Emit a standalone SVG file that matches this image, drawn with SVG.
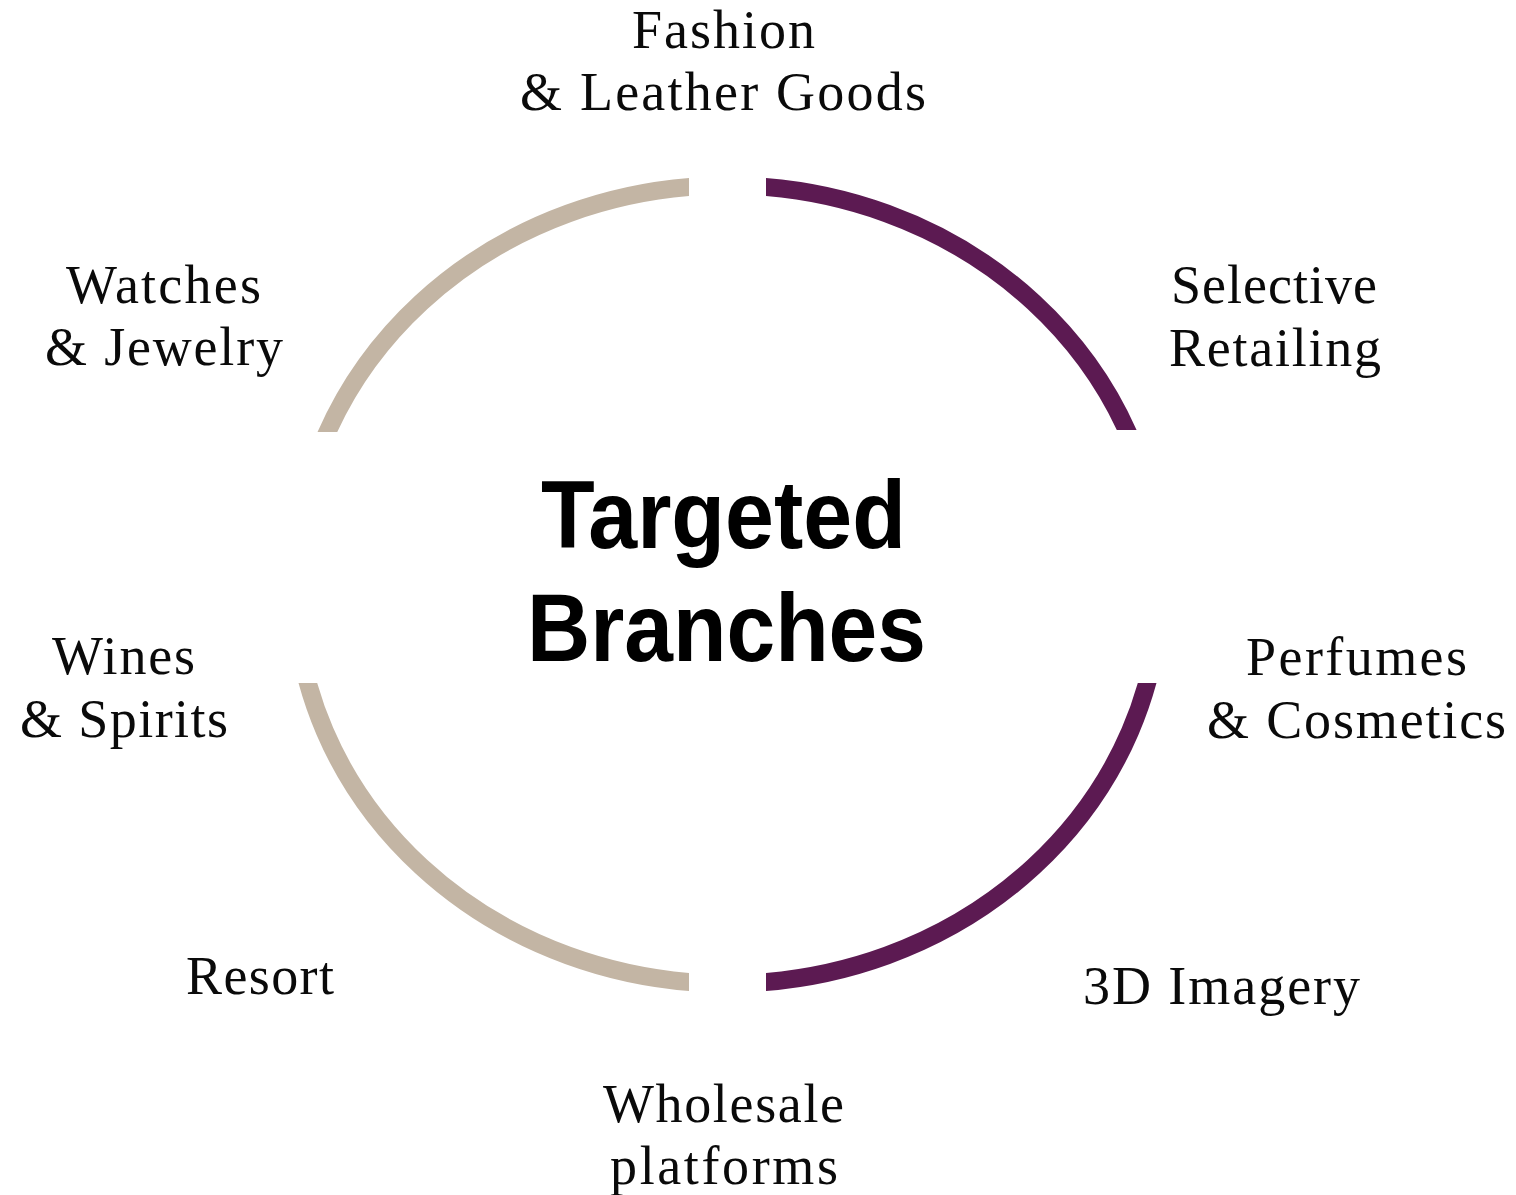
<svg xmlns="http://www.w3.org/2000/svg" width="1516" height="1195" viewBox="0 0 1516 1195">
<style>
.lbl{font-family:"Liberation Serif","Times New Roman",serif;font-size:54px;fill:#0a0a0a;text-anchor:middle}
.ctr{font-family:"Liberation Sans",Arial,Helvetica,sans-serif;font-size:96px;font-weight:bold;fill:#000;text-anchor:middle}
.arc{fill:none;stroke-width:18}
.beige{stroke:#C3B5A4}
.purple{stroke:#5C1A52}
</style>
<defs>
<clipPath id="cTL"><rect x="0" y="0" width="689" height="432"/></clipPath>
<clipPath id="cTR"><rect x="766" y="0" width="750" height="430"/></clipPath>
<clipPath id="cBL"><rect x="0" y="683" width="689" height="512"/></clipPath>
<clipPath id="cBR"><rect x="766" y="683" width="750" height="512"/></clipPath>
</defs>
<rect width="1516" height="1195" fill="#fff"/>
<g id="connectors">
<ellipse class="arc beige" cx="727.5" cy="584.5" rx="433" ry="399" clip-path="url(#cTL)"/>
<ellipse class="arc purple" cx="727.5" cy="584.5" rx="433" ry="399" clip-path="url(#cTR)"/>
<ellipse class="arc beige" cx="727.5" cy="584.5" rx="433" ry="399" clip-path="url(#cBL)"/>
<ellipse class="arc purple" cx="727.5" cy="584.5" rx="433" ry="399" clip-path="url(#cBR)"/>
</g>
<g id="center">
<text class="ctr" x="723.5" y="548" textLength="365" lengthAdjust="spacingAndGlyphs">Targeted</text>
<text class="ctr" x="726.5" y="661" textLength="399" lengthAdjust="spacingAndGlyphs">Branches</text>
</g>
<g id="fashion">
<text class="lbl" x="723.5" y="48" textLength="183" lengthAdjust="spacing">Fashion</text>
<text class="lbl" x="723" y="110" textLength="406" lengthAdjust="spacing">&amp; Leather Goods</text>
</g>
<g id="selective">
<text class="lbl" x="1274" y="303" textLength="206" lengthAdjust="spacing">Selective</text>
<text class="lbl" x="1275" y="366" textLength="212" lengthAdjust="spacing">Retailing</text>
</g>
<g id="perfumes">
<text class="lbl" x="1356.5" y="675" textLength="221" lengthAdjust="spacing">Perfumes</text>
<text class="lbl" x="1356.5" y="738" textLength="299" lengthAdjust="spacing">&amp; Cosmetics</text>
</g>
<g id="imagery">
<text class="lbl" x="1221.5" y="1004" textLength="277" lengthAdjust="spacing">3D Imagery</text>
</g>
<g id="wholesale">
<text class="lbl" x="723.5" y="1122" textLength="241" lengthAdjust="spacing">Wholesale</text>
<text class="lbl" x="724" y="1184" textLength="228" lengthAdjust="spacing">platforms</text>
</g>
<g id="resort">
<text class="lbl" x="260" y="994" textLength="148" lengthAdjust="spacing">Resort</text>
</g>
<g id="wines">
<text class="lbl" x="123.5" y="674" textLength="143" lengthAdjust="spacing">Wines</text>
<text class="lbl" x="124" y="737" textLength="208" lengthAdjust="spacing">&amp; Spirits</text>
</g>
<g id="watches">
<text class="lbl" x="163.5" y="303" textLength="195" lengthAdjust="spacing">Watches</text>
<text class="lbl" x="164" y="365" textLength="238" lengthAdjust="spacing">&amp; Jewelry</text>
</g>
</svg>
